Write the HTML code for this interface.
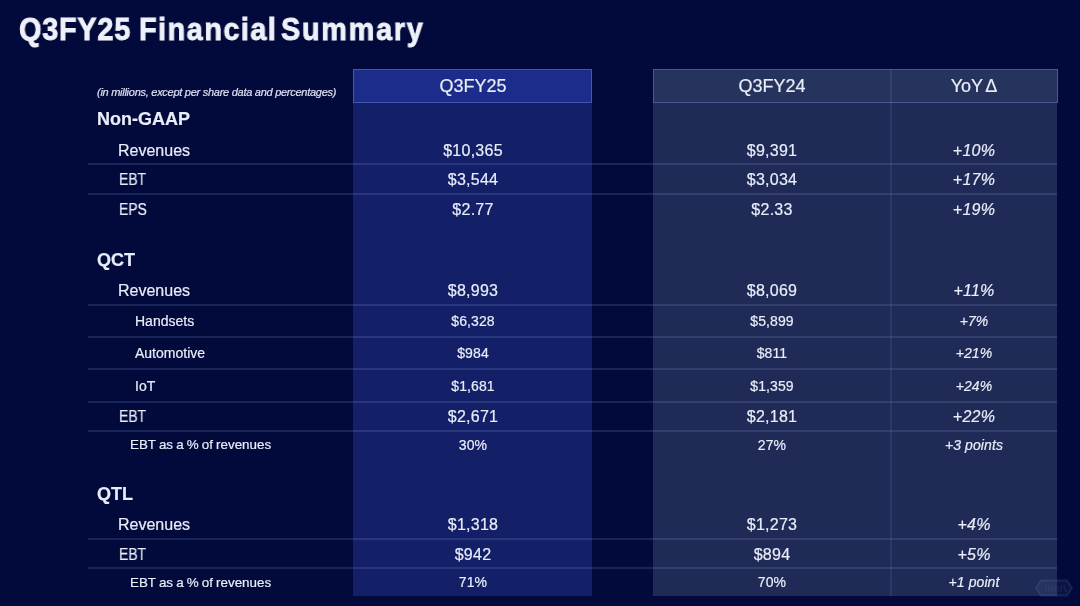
<!DOCTYPE html>
<html><head><meta charset="utf-8"><title>Q3FY25 Financial Summary</title><style>
html,body{margin:0;padding:0;}
body{width:1080px;height:606px;overflow:hidden;background:#010a3b;position:relative;font-family:"Liberation Sans",sans-serif;-webkit-font-smoothing:antialiased;}
.t{position:absolute;line-height:0;white-space:nowrap;color:#e9edf8;will-change:transform;-webkit-text-stroke:0.2px #e9edf8;}
.col1{position:absolute;left:353px;top:69px;width:239px;height:527px;background:#132068;}
.col1h{position:absolute;box-sizing:border-box;left:353px;top:69px;width:239px;height:34px;background:#1b2c8a;border:1px solid #4657ad;}
.col2{position:absolute;left:653px;top:69px;width:404px;height:527px;background:#1f2a56;}
.col2h{position:absolute;box-sizing:border-box;left:653px;top:69px;width:405px;height:34px;background:#26335c;border:1px solid #4a5790;}
.vd{position:absolute;left:890px;top:69px;width:1.5px;height:527px;background:rgba(150,165,220,0.12);}
.hl{position:absolute;left:88px;width:969px;height:2px;background:rgba(120,135,205,0.21);}
.wm{position:absolute;left:1034px;top:578px;width:40px;height:20px;}
</style></head><body>
<div class="col1"></div><div class="col1h"></div>
<div class="col2"></div><div class="col2h"></div>
<div class="vd"></div>
<div class="hl" style="top:163px"></div><div class="hl" style="top:193px"></div><div class="hl" style="top:304px"></div><div class="hl" style="top:336px"></div><div class="hl" style="top:368px"></div><div class="hl" style="top:401px"></div><div class="hl" style="top:430px"></div><div class="hl" style="top:538px"></div><div class="hl" style="top:567px"></div>
<div class="t" style="left:18.90px;top:29.56px;font-size:31px;font-weight:bold;color:#eef1fa;letter-spacing:0.85px;-webkit-text-stroke:0.9px #eef1fa;transform:scaleX(0.93);transform-origin:0 0;">Q3FY25</div><div class="t" style="left:139.20px;top:29.56px;font-size:31px;font-weight:bold;color:#eef1fa;letter-spacing:1.6px;-webkit-text-stroke:0.9px #eef1fa;transform:scaleX(0.93);transform-origin:0 0;">Financial</div><div class="t" style="left:281.20px;top:29.56px;font-size:31px;font-weight:bold;color:#eef1fa;letter-spacing:1.85px;-webkit-text-stroke:0.9px #eef1fa;transform:scaleX(0.93);transform-origin:0 0;">Summary</div><div class="t" style="left:96.50px;top:91.79px;font-size:11px;font-style:italic;color:#d5dbf0;letter-spacing:-0.27px;">(in millions, except per share data and percentages)</div><div class="t" style="left:272.50px;width:400px;text-align:center;top:86.36px;font-size:18px;">Q3FY25</div><div class="t" style="left:572.00px;width:400px;text-align:center;top:86.36px;font-size:18px;">Q3FY24</div><div class="t" style="left:774.00px;width:400px;text-align:center;top:86.16px;font-size:18px;word-spacing:-2.5px;">YoY &#916;</div><div class="t" style="left:96.50px;top:119.16px;font-size:18px;font-weight:bold;">Non-GAAP</div><div class="t" style="left:118.20px;top:150.76px;font-size:16px;">Revenues</div><div class="t" style="left:272.50px;width:400px;text-align:center;top:150.76px;font-size:16px;letter-spacing:0.25px;">$10,365</div><div class="t" style="left:571.50px;width:400px;text-align:center;top:150.76px;font-size:16px;letter-spacing:0.25px;">$9,391</div><div class="t" style="left:774.00px;width:400px;text-align:center;top:150.76px;font-size:16px;font-style:italic;letter-spacing:0.25px;">+10%</div><div class="t" style="left:118.20px;top:180.36px;font-size:16px;"><span style="display:inline-block;transform:scaleX(0.87);transform-origin:0 0;margin-left:1px">EBT</span></div><div class="t" style="left:272.50px;width:400px;text-align:center;top:180.36px;font-size:16px;letter-spacing:0.25px;">$3,544</div><div class="t" style="left:571.50px;width:400px;text-align:center;top:180.36px;font-size:16px;letter-spacing:0.25px;">$3,034</div><div class="t" style="left:774.00px;width:400px;text-align:center;top:180.36px;font-size:16px;font-style:italic;letter-spacing:0.25px;">+17%</div><div class="t" style="left:118.20px;top:209.66px;font-size:16px;"><span style="display:inline-block;transform:scaleX(0.87);transform-origin:0 0;margin-left:1px">EPS</span></div><div class="t" style="left:272.50px;width:400px;text-align:center;top:209.66px;font-size:16px;letter-spacing:0.25px;">$2.77</div><div class="t" style="left:571.50px;width:400px;text-align:center;top:209.66px;font-size:16px;letter-spacing:0.25px;">$2.33</div><div class="t" style="left:774.00px;width:400px;text-align:center;top:209.66px;font-size:16px;font-style:italic;letter-spacing:0.25px;">+19%</div><div class="t" style="left:96.50px;top:259.76px;font-size:18px;font-weight:bold;">QCT</div><div class="t" style="left:118.20px;top:290.96px;font-size:16px;">Revenues</div><div class="t" style="left:272.50px;width:400px;text-align:center;top:290.96px;font-size:16px;letter-spacing:0.25px;">$8,993</div><div class="t" style="left:571.50px;width:400px;text-align:center;top:290.96px;font-size:16px;letter-spacing:0.25px;">$8,069</div><div class="t" style="left:774.00px;width:400px;text-align:center;top:290.96px;font-size:16px;font-style:italic;letter-spacing:0.25px;">+11%</div><div class="t" style="left:134.50px;top:320.75px;font-size:14px;">Handsets</div><div class="t" style="left:272.50px;width:400px;text-align:center;top:320.75px;font-size:14px;letter-spacing:0.1px;">$6,328</div><div class="t" style="left:571.50px;width:400px;text-align:center;top:320.75px;font-size:14px;letter-spacing:0.1px;">$5,899</div><div class="t" style="left:774.00px;width:400px;text-align:center;top:320.75px;font-size:14px;font-style:italic;letter-spacing:0.1px;">+7%</div><div class="t" style="left:134.50px;top:353.15px;font-size:14px;">Automotive</div><div class="t" style="left:272.50px;width:400px;text-align:center;top:353.15px;font-size:14px;letter-spacing:0.1px;">$984</div><div class="t" style="left:571.50px;width:400px;text-align:center;top:353.15px;font-size:14px;letter-spacing:0.1px;">$811</div><div class="t" style="left:774.00px;width:400px;text-align:center;top:353.15px;font-size:14px;font-style:italic;letter-spacing:0.1px;">+21%</div><div class="t" style="left:134.50px;top:385.75px;font-size:14px;">IoT</div><div class="t" style="left:272.50px;width:400px;text-align:center;top:385.75px;font-size:14px;letter-spacing:0.1px;">$1,681</div><div class="t" style="left:571.50px;width:400px;text-align:center;top:385.75px;font-size:14px;letter-spacing:0.1px;">$1,359</div><div class="t" style="left:774.00px;width:400px;text-align:center;top:385.75px;font-size:14px;font-style:italic;letter-spacing:0.1px;">+24%</div><div class="t" style="left:118.20px;top:416.96px;font-size:16px;"><span style="display:inline-block;transform:scaleX(0.87);transform-origin:0 0;margin-left:1px">EBT</span></div><div class="t" style="left:272.50px;width:400px;text-align:center;top:416.96px;font-size:16px;letter-spacing:0.25px;">$2,671</div><div class="t" style="left:571.50px;width:400px;text-align:center;top:416.96px;font-size:16px;letter-spacing:0.25px;">$2,181</div><div class="t" style="left:774.00px;width:400px;text-align:center;top:416.96px;font-size:16px;font-style:italic;letter-spacing:0.25px;">+22%</div><div class="t" style="left:130.00px;top:445.36px;font-size:13.4px;word-spacing:-0.6px;">EBT as a % of revenues</div><div class="t" style="left:272.50px;width:400px;text-align:center;top:445.15px;font-size:14px;letter-spacing:0.1px;">30%</div><div class="t" style="left:571.50px;width:400px;text-align:center;top:445.15px;font-size:14px;letter-spacing:0.1px;">27%</div><div class="t" style="left:774.00px;width:400px;text-align:center;top:445.15px;font-size:14px;font-style:italic;letter-spacing:0.1px;">+3 points</div><div class="t" style="left:96.50px;top:494.16px;font-size:18px;font-weight:bold;">QTL</div><div class="t" style="left:118.20px;top:525.16px;font-size:16px;">Revenues</div><div class="t" style="left:272.50px;width:400px;text-align:center;top:525.16px;font-size:16px;letter-spacing:0.25px;">$1,318</div><div class="t" style="left:571.50px;width:400px;text-align:center;top:525.16px;font-size:16px;letter-spacing:0.25px;">$1,273</div><div class="t" style="left:774.00px;width:400px;text-align:center;top:525.16px;font-size:16px;font-style:italic;letter-spacing:0.25px;">+4%</div><div class="t" style="left:118.20px;top:554.56px;font-size:16px;"><span style="display:inline-block;transform:scaleX(0.87);transform-origin:0 0;margin-left:1px">EBT</span></div><div class="t" style="left:272.50px;width:400px;text-align:center;top:554.56px;font-size:16px;letter-spacing:0.25px;">$942</div><div class="t" style="left:571.50px;width:400px;text-align:center;top:554.56px;font-size:16px;letter-spacing:0.25px;">$894</div><div class="t" style="left:774.00px;width:400px;text-align:center;top:554.56px;font-size:16px;font-style:italic;letter-spacing:0.25px;">+5%</div><div class="t" style="left:130.00px;top:582.66px;font-size:13.4px;word-spacing:-0.6px;">EBT as a % of revenues</div><div class="t" style="left:272.50px;width:400px;text-align:center;top:582.45px;font-size:14px;letter-spacing:0.1px;">71%</div><div class="t" style="left:571.50px;width:400px;text-align:center;top:582.45px;font-size:14px;letter-spacing:0.1px;">70%</div><div class="t" style="left:774.00px;width:400px;text-align:center;top:582.45px;font-size:14px;font-style:italic;letter-spacing:0.1px;">+1 point</div>
<svg class="wm" width="40" height="20" viewBox="0 0 40 20"><path d="M7 2.5 H33 L38 10 L33 17.5 H7 L2 10 Z" fill="rgba(140,155,220,0.07)" stroke="rgba(140,155,220,0.14)" stroke-width="2"/><path d="M12 7v7M15 7v7M18 7v7M21 7v7M24 7v7M28 7l-2 7M30 7l2 7" stroke="rgba(140,155,220,0.10)" stroke-width="1.2"/></svg>
</body></html>
